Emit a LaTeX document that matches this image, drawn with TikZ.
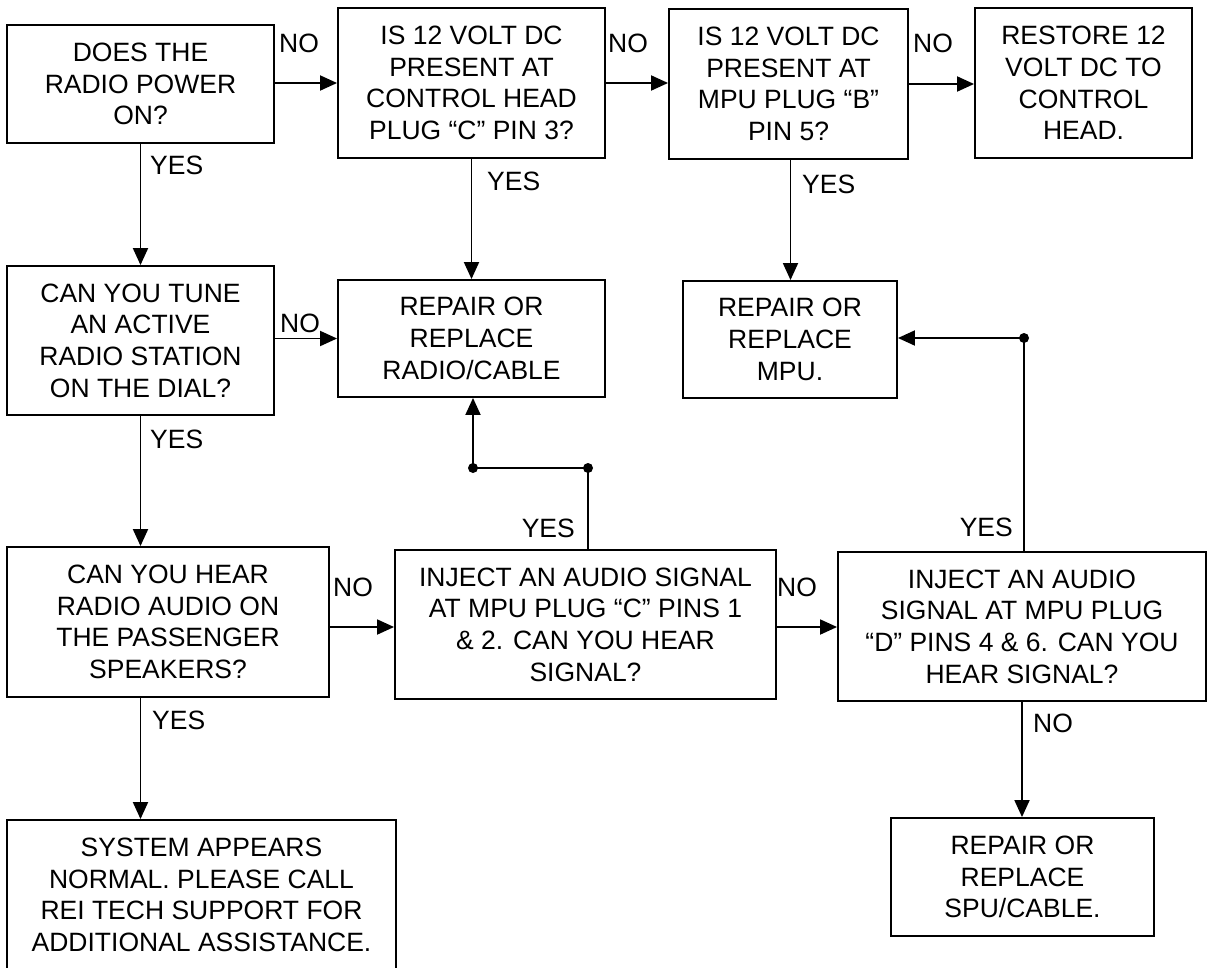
\documentclass[tikz,border=0pt]{standalone}
\usepackage{fontspec}
\setmainfont{Liberation Sans}
\usetikzlibrary{arrows.meta}
\begin{document}
\begin{tikzpicture}[x=1pt,y=-1pt,
  every node/.style={font=\fontsize{26.5}{31.7}\selectfont},
  box/.style={draw, line width=1.9pt, inner sep=0pt, align=center},
  conn/.style={line width=1.9pt},
  arr/.style={conn, -{Triangle[length=17pt,width=15pt]}},
  lab/.style={inner sep=0pt},
  dot/.style={fill=black}]
\useasboundingbox (0,0) rectangle (1209,967);
\clip (0,0) rectangle (1209,967);
% boxes
\node[box, minimum width=267pt, minimum height=118pt] (B1) at (140.5,84) {\rule{0pt}{12pt}DOES THE\\RADIO POWER\\ON?};
\node[box, minimum width=267pt, minimum height=150pt] (B2) at (471.5,83) {IS 12 VOLT DC\\PRESENT AT\\CONTROL HEAD\\PLUG “C” PIN 3?};
\node[box, minimum width=239pt, minimum height=150pt] (B3) at (788.5,84) {IS 12 VOLT DC\\PRESENT AT\\MPU PLUG “B”\\PIN 5?};
\node[box, minimum width=217pt, minimum height=150pt] (B4) at (1083.5,83) {RESTORE 12\\VOLT DC TO\\CONTROL\\HEAD.};
\node[box, minimum width=267pt, minimum height=149pt] (B5) at (140.5,340.5) {CAN YOU TUNE\\AN ACTIVE\\RADIO STATION\\ON THE DIAL?};
\node[box, minimum width=267pt, minimum height=117pt] (B6) at (471.5,338.5) {REPAIR OR\\REPLACE\\RADIO/CABLE};
\node[box, minimum width=214pt, minimum height=117pt] (B7) at (790,339.5) {REPAIR OR\\REPLACE\\MPU.};
\node[box, minimum width=322pt, minimum height=150pt] (B8) at (168,622) {CAN YOU HEAR\\RADIO AUDIO ON\\THE PASSENGER\\SPEAKERS?};
\node[box, minimum width=381pt, minimum height=149pt] (B9) at (585.5,624.5) {INJECT AN AUDIO SIGNAL\\AT MPU PLUG “C” PINS 1\\\& 2. CAN YOU HEAR\\SIGNAL?};
\node[box, minimum width=368pt, minimum height=149pt] (B10) at (1022,626.5) {INJECT AN AUDIO\\SIGNAL AT MPU PLUG\\“D” PINS 4 \& 6. CAN YOU\\HEAR SIGNAL?};
\node[box, minimum width=389pt, minimum height=150pt] (B11) at (201.5,895) {SYSTEM APPEARS\\NORMAL. PLEASE CALL\\REI TECH SUPPORT FOR\\ADDITIONAL ASSISTANCE.};
\node[box, minimum width=263pt, minimum height=118pt] (B12) at (1022.5,877) {REPAIR OR\\REPLACE\\SPU/CABLE.};
% junctions
\coordinate (j1) at (588,468);
\coordinate (j2) at (473,468);
\coordinate (j3) at (1024,338);
% connectors
\draw[arr] (B1.east |- B2.west) -- (B2.west);
\draw[arr] (B2.east) -- (B2.east -| B3.west);
\draw[arr] (B3.east) -- (B3.east -| B4.west);
\draw[arr] (B1.south) -- (B1.south |- B5.north);
\draw[arr] (B2.south) -- (B6.north);
\draw[arr] ([xshift=2pt]B3.south) -- ([xshift=2pt]B3.south |- B7.north);
\draw[arr] (B5.east |- B6.west) -- (B6.west);
\draw[arr] (B5.south) -- (B5.south |- B8.north);
\draw[arr] ([yshift=-5pt]B8.east) -- ([yshift=-5pt]B8.east -| B9.west);
\draw[arr] ([yshift=-2.5pt]B9.east) -- ([yshift=-2.5pt]B9.east -| B10.west);
\draw[arr] (B5.south |- B8.south) -- (B5.south |- B11.north);
\draw[arr] (B10.south) -- (B10.south |- B12.north);
\draw[conn] (j1 |- B9.north) -- (j1) -- (j2);
\draw[arr] (j2) -- (j2 |- B6.south);
\draw[conn] (j3 |- B10.north) -- (j3);
\draw[arr] (j3) -- (j3 -| B7.east);
\fill[dot] (j1) circle (5pt);
\fill[dot] (j2) circle (5pt);
\fill[dot] (j3) circle (5pt);
% labels
\node[lab, anchor=west] (L1) at (279,43) {NO};
\node[lab, anchor=west] (L2) at (608,43) {NO};
\node[lab, anchor=west] (L3) at (913,43) {NO};
\node[lab, anchor=west] (L4) at (150,165) {YES};
\node[lab, anchor=west] (L5) at (487,181) {YES};
\node[lab, anchor=west] (L6) at (802,184) {YES};
\node[lab, anchor=west] (L7) at (280,323) {NO};
\node[lab, anchor=west] (L8) at (150,439) {YES};
\node[lab, anchor=east] (L9) at (575,528) {YES};
\node[lab, anchor=east] (L10) at (1013,527) {YES};
\node[lab, anchor=west] (L11) at (333,587) {NO};
\node[lab, anchor=west] (L12) at (777,587) {NO};
\node[lab, anchor=west] (L13) at (152,720) {YES};
\node[lab, anchor=west] (L14) at (1033,723) {NO};
\end{tikzpicture}
\end{document}
